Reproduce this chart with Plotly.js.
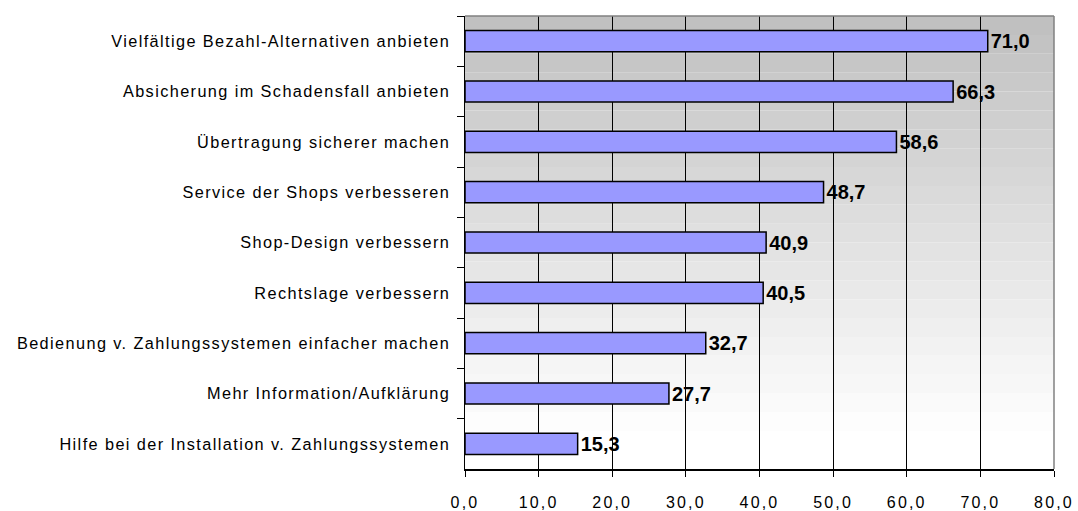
<!DOCTYPE html>
<html><head><meta charset="utf-8">
<script src="https://cdn.plot.ly/plotly-3.0.1.min.js"></script>
<style>
body{margin:0;background:#fff}#c{width:1078px;height:511px}
.ytick text{letter-spacing:1.4px}
.xtick text{letter-spacing:2.2px}
</style>
</head><body><div id="c"></div>
<script>
const categories = [
  "Vielfältige Bezahl-Alternativen anbieten",
  "Absicherung im Schadensfall anbieten",
  "Übertragung sicherer machen",
  "Service der Shops verbesseren",
  "Shop-Design verbessern",
  "Rechtslage verbessern",
  "Bedienung v. Zahlungssystemen einfacher machen",
  "Mehr Information/Aufklärung",
  "Hilfe bei der Installation v. Zahlungssystemen"
];
const values = [71.0, 66.3, 58.6, 48.7, 40.9, 40.5, 32.7, 27.7, 15.3];
const xTicks = [0, 10, 20, 30, 40, 50, 60, 70, 80];

// background gradient bands (gray at top -> white at bottom)
const shapes = [];
const nb = 24, whiteFrom = 0.1;
for (let i = 0; i < nb; i++) {
  const y1 = 1 - i / nb, y0 = 1 - (i + 1) / nb;
  const t = Math.min(1, (1 - y1) / (1 - whiteFrom));
  const g = Math.round(192 + (255 - 192) * t);
  shapes.push({type:'rect', xref:'paper', yref:'paper', x0:0, x1:1, y0:y0, y1:y1,
    fillcolor:`rgb(${g},${g},${g})`, line:{width:0}, layer:'below'});
}
// top and right gray frame
shapes.push({type:'line', xref:'paper', yref:'paper', x0:0, x1:1, y0:1, y1:1, line:{color:'#808080', width:1.5}});
shapes.push({type:'line', xref:'paper', yref:'paper', x0:1, x1:1, y0:0, y1:1, line:{color:'#808080', width:1.5}});

const trace = {
  type:'bar', orientation:'h', y: categories, x: values,
  marker:{color:'#9999FF', line:{color:'#000', width:1.5}},
  texttemplate:'%{x:.1f}', textposition:'outside', cliponaxis:false, constraintext:'none',
  textfont:{family:'Liberation Sans, Arial, sans-serif', size:20, color:'#000', weight:'bold'},
  hoverinfo:'none'
};

const layout = {
  width:1078, height:511,
  margin:{l:465, r:24, t:16, b:42},
  paper_bgcolor:'#fff', plot_bgcolor:'rgba(0,0,0,0)',
  separators:',.',
  bargap:0.58,
  showlegend:false,
  font:{family:'Liberation Sans, Arial, sans-serif', size:16, color:'#000'},
  xaxis:{range:[0,80], tickvals:xTicks, tickformat:'.1f', showgrid:true, gridcolor:'#000', gridwidth:1,
    zeroline:false, showline:true, linecolor:'#000', linewidth:1.5, ticks:'outside', ticklen:6,
    tickcolor:'#000', tickfont:{size:16}, ticklabelstandoff:12, fixedrange:true},
  yaxis:{autorange:'reversed', type:'category', tickson:'boundaries', ticks:'outside', ticklen:7,
    tickcolor:'#000', showline:true, linecolor:'#000', linewidth:1.5, showgrid:false,
    tickfont:{size:16.3}, ticklabelstandoff:10, fixedrange:true},
  shapes: shapes
};
Plotly.newPlot('c', [trace], layout, {staticPlot:true});
</script></body></html>
